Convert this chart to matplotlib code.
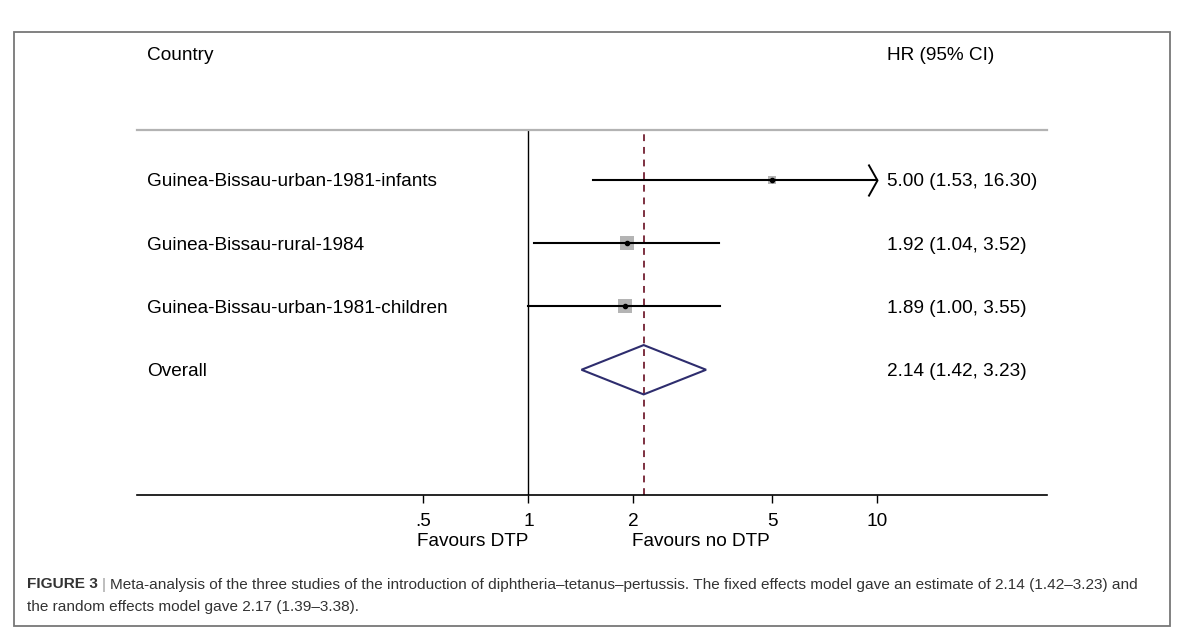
import matplotlib.pyplot as plt
from matplotlib.patches import Polygon, Rectangle
from matplotlib.path import Path
import matplotlib.transforms as mtransforms

studies = [
    "Guinea-Bissau-urban-1981-infants",
    "Guinea-Bissau-rural-1984",
    "Guinea-Bissau-urban-1981-children",
]
hr = [5.00, 1.92, 1.89]
ci_low = [1.53, 1.04, 1.00]
ci_high = [16.30, 3.52, 3.55]
weights = [12.5, 43.5, 44.0]

overall_label = "Overall"
overall_hr = 2.14
overall_low = 1.42
overall_high = 3.23

tick_values = [0.5, 1, 2, 5, 10]
tick_labels = [".5", "1", "2", "5", "10"]

caption_head = "FIGURE 3"
caption_body = ("Meta-analysis of the three studies of the introduction of "
                "diphtheria\u2013tetanus\u2013pertussis. The fixed effects model "
                "gave an estimate of 2.14 (1.42\u20133.23) and")
caption_line2 = "the random effects model gave 2.17 (1.39\u20133.38)."

plt.rcParams["font.family"] = ["Liberation Sans", "DejaVu Sans"]
FS = 13.7
W, H = 1178, 629

fig = plt.figure(figsize=(W / 100, H / 100), dpi=100)
ax = fig.add_axes([137 / W, 1 - 495 / H, 910 / W, 365 / H])
ax.set_xscale("log")
ax.set_xlim(0.0757, 30.6)
ax.set_ylim(4.98, -0.79)

for side in ["left", "right"]:
    ax.spines[side].set_visible(False)
ax.spines["top"].set_color("#b3b3b3")
ax.spines["top"].set_linewidth(1.6)
ax.spines["bottom"].set_linewidth(1.2)

ax.set_yticks([])
ax.set_xticks(tick_values)
ax.set_xticklabels(tick_labels, fontsize=FS)
ax.xaxis.set_minor_locator(plt.NullLocator())
ax.tick_params(axis="x", length=6, width=1.0, pad=7)

# null line and overall estimate line
ax.axvline(1, color="black", lw=1.0)
ax.axvline(overall_hr, color="#7d3040", lw=1.4, ls=(0, (3.5, 3)))

x_clip = 10
chevron = Path([(-9, 16), (0, 0), (-9, -16)],
               [Path.MOVETO, Path.LINETO, Path.LINETO])

text_tr = mtransforms.blended_transform_factory(ax.transAxes, ax.transData)
label_x = 10 / 910
value_x = 750 / 910
VA = "center_baseline"

for i, name in enumerate(studies):
    hi = min(ci_high[i], x_clip)
    ax.plot([ci_low[i], hi], [i, i], color="black", lw=1.5, zorder=3)
    if ci_high[i] > x_clip:
        ax.plot([x_clip], [i], marker=chevron, markersize=23,
                markerfacecolor="none", markeredgecolor="black",
                markeredgewidth=1.4, zorder=3)
    size = 13.5 * (weights[i] / 44.0) ** 0.5 * 0.72
    ax.plot([hr[i]], [i], marker="s", markersize=size, color="#b4b4b4",
            markeredgewidth=0, zorder=2)
    ax.plot([hr[i]], [i], marker="o", markersize=3, color="black", zorder=4)
    ax.text(label_x, i, name, transform=text_tr, ha="left", va=VA,
            fontsize=FS)
    ax.text(value_x, i, f"{hr[i]:.2f} ({ci_low[i]:.2f}, {ci_high[i]:.2f})",
            transform=text_tr, ha="left", va=VA, fontsize=FS)

yo = len(studies)
dh = 0.39
diamond = Polygon([(overall_low, yo), (overall_hr, yo - dh),
                   (overall_high, yo), (overall_hr, yo + dh)],
                  closed=True, fill=False, edgecolor="#2e2d6e", lw=1.5,
                  zorder=3)
ax.add_patch(diamond)
ax.text(label_x, yo, overall_label, transform=text_tr, ha="left",
        va=VA, fontsize=FS)
ax.text(value_x, yo,
        f"{overall_hr:.2f} ({overall_low:.2f}, {overall_high:.2f})",
        transform=text_tr, ha="left", va=VA, fontsize=FS)

# column headers
fig.text(147 / W, 1 - 54 / H, "Country", ha="left", va=VA, fontsize=FS)
fig.text(887 / W, 1 - 54 / H, "HR (95% CI)", ha="left", va=VA,
         fontsize=FS)

# favours labels under the axis
fav_tr = mtransforms.blended_transform_factory(ax.transData, fig.transFigure)
fig.text(1, 1 - 539 / H, "Favours DTP", transform=fav_tr, ha="right",
         va=VA, fontsize=FS)
fig.text(1.98, 1 - 539 / H, "Favours no DTP", transform=fav_tr, ha="left",
         va=VA, fontsize=FS)

# outer frame
fig.add_artist(Rectangle((14 / W, 1 - 626 / H), 1156 / W, 594 / H,
                         transform=fig.transFigure, fill=False,
                         edgecolor="#777777", lw=1.3))

# caption
CFS = 11.05
renderer = fig.canvas.get_renderer()
t1 = fig.text(27 / W, 1 - 583 / H, caption_head, ha="left", va=VA,
              fontsize=CFS, fontweight="bold", color="#333333")
x = t1.get_window_extent(renderer).x1 + 4
t2 = fig.text(x / W, 1 - 583 / H, "|", ha="left", va=VA,
              fontsize=CFS, color="#9a9a9a")
x = t2.get_window_extent(renderer).x1 + 4
fig.text(x / W, 1 - 583 / H, caption_body, ha="left", va=VA,
         fontsize=CFS, color="#333333")
fig.text(27 / W, 1 - 606 / H, caption_line2, ha="left", va=VA,
         fontsize=CFS, color="#333333")

fig.savefig("out.png", dpi=100)
